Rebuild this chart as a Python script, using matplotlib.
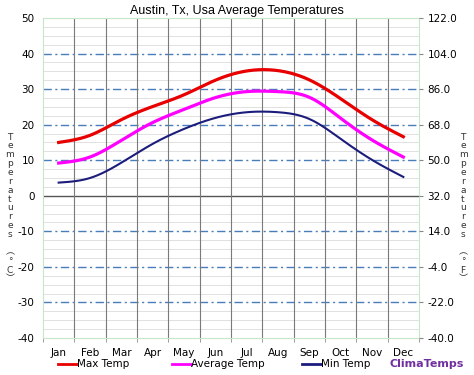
import numpy as np
import matplotlib
matplotlib.use("Agg")
import matplotlib.pyplot as plt
from matplotlib.ticker import FormatStrFormatter

months = ["Jan", "Feb", "Mar", "Apr", "May", "Jun", "Jul", "Aug", "Sep", "Oct", "Nov", "Dec"]
max_temp = [15.0, 17.0, 21.4, 25.1, 28.4, 32.5, 35.1, 35.2, 32.6, 27.3, 21.4, 16.6]
avg_temp = [9.2, 10.9, 15.6, 20.6, 24.3, 27.6, 29.3, 29.3, 27.7, 21.8, 15.7, 10.9]
min_temp = [3.7, 5.0, 9.3, 14.6, 18.8, 21.9, 23.5, 23.5, 21.6, 16.0, 10.1, 5.3]
c_ticks = [50, 40, 30, 20, 10, 0, -10, -20, -30, -40]
f_ticks = [122.0, 104.0, 86.0, 68.0, 50.0, 32.0, 14.0, -4.0, -22.0, -40.0]

plt.rcParams['font.family'] = ['DejaVu Sans', 'Noto Sans CJK SC']


def smooth(y, n=30):
    # natural cubic spline through the monthly points, just for drawing
    y = np.asarray(y, dtype=float)
    m = len(y)
    A = np.zeros((m, m))
    r = np.zeros(m)
    A[0, 0] = A[-1, -1] = 1
    for i in range(1, m - 1):
        A[i, i - 1], A[i, i], A[i, i + 1] = 1, 4, 1
        r[i] = 6 * (y[i + 1] - 2 * y[i] + y[i - 1])
    M = np.linalg.solve(A, r)
    xs, ys = [], []
    for i in range(m - 1):
        t = np.linspace(0, 1, n, endpoint=(i == m - 2))
        v = ((1 - t) * y[i] + t * y[i + 1]
             + ((1 - t) ** 3 - (1 - t)) * M[i] / 6 + (t ** 3 - t) * M[i + 1] / 6)
        xs.append(i + t)
        ys.append(v)
    return np.concatenate(xs), np.concatenate(ys)


fig = plt.figure(figsize=(4.74, 3.75), dpi=100)
ax = fig.add_axes([43 / 474, 37 / 375, 376 / 474, 320 / 375])
x = np.arange(len(months))

ax.set_xlim(-0.5, 11.5)
ax.set_ylim(-40, 50)

# minor horizontal grid
for v in np.arange(-37.5, 50, 2.5):
    if v % 10 != 0:
        ax.axhline(v, color='#dcdcdc', lw=0.6, zorder=0)
for v in [40, 30, 20, 10, -10, -20, -30]:
    ax.axhline(v, color='#4a7dbb', lw=1.0, dashes=(6, 2.5, 1.5, 2.5), zorder=1)
ax.axhline(0, color='#555555', lw=1.0, zorder=1)
for b in np.arange(0.5, 11, 1):
    ax.axvline(b, color='#7a7a7a', lw=0.8, zorder=1)

ax.plot(*smooth(min_temp), color='#1c1c7c', lw=1.5, zorder=3)
ax.plot(*smooth(avg_temp), color='#ff00ff', lw=2.3, zorder=3)
ax.plot(*smooth(max_temp), color='#e80000', lw=2.3, zorder=3)

for s in ax.spines.values():
    s.set_color('#c8e6c8')
    s.set_linewidth(0.8)

ax.set_yticks(c_ticks)
ax.set_yticklabels([str(v) for v in c_ticks])
ax.tick_params(axis='y', length=0, labelsize=7.5, pad=6)
ax.set_xticks(x)
ax.set_xticklabels(months)
ax.set_xticks(np.arange(-0.5, 12, 1), minor=True)
ax.tick_params(axis='x', which='major', length=0, labelsize=7.5, pad=7)
ax.tick_params(axis='x', which='minor', length=3, color='#8a8a8a')

ax2 = ax.twinx()
ax2.set_ylim(-40, 122)
ax2.set_yticks(f_ticks)
ax2.yaxis.set_major_formatter(FormatStrFormatter('%.1f'))
ax2.tick_params(axis='y', length=3, color='#888888', labelsize=7.5, pad=3)
for s in ax2.spines.values():
    s.set_visible(False)

fig.text(237 / 474, 1 - 11 / 375, "Austin, Tx, Usa Average Temperatures", ha='center', va='center',
         fontsize=9, family='Liberation Sans')

left_lbl = "T\ne\nm\np\ne\nr\na\nt\nu\nr\ne\ns\n \n︵\n°\nC\n︶"
right_lbl = "T\ne\nm\np\ne\nr\na\nt\nu\nr\ne\ns\n \n︵\n°\nF\n︶"
fig.text(10 / 474, 1 - 208 / 375, left_lbl, ha='center', va='center', fontsize=6.5,
         linespacing=0.98, color='#333333')
fig.text(463 / 474, 1 - 208 / 375, right_lbl, ha='center', va='center', fontsize=6.5,
         linespacing=0.98, color='#333333')

# legend row
ly = 1 - 364 / 375
for x0, col, lw, lab in [(58, '#e80000', 2.0, "Max Temp"), (172, '#ff00ff', 2.0, "Average Temp"),
                         (302, '#1c1c7c', 2.0, "Min Temp")]:
    fig.add_artist(plt.Line2D([x0 / 474, (x0 + 19) / 474], [ly, ly], color=col, lw=lw))
    fig.text((x0 + 19) / 474, ly, lab, ha='left', va='center', fontsize=7.5)
fig.text(464 / 474, ly, "ClimaTemps", ha='right', va='center', fontsize=8, fontweight='bold',
         color='#7030a0')

fig.savefig("out.png", dpi=100)
